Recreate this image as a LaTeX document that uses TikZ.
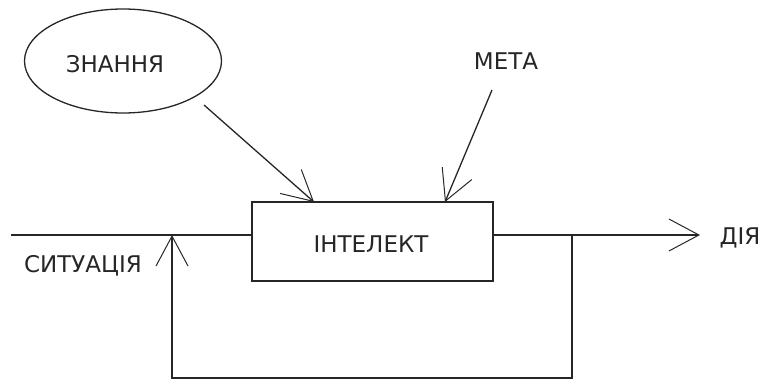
\documentclass[tikz,border=0pt]{standalone}
\usepackage{fontspec}
\setmainfont{DejaVu Sans}
\usetikzlibrary{shapes.geometric,arrows.meta}
\begin{document}
\begin{tikzpicture}[x=1pt,y=-1pt,
  ln/.style={line width=1.3pt,draw=black!85},
  arr/.style={ln,-{Straight Barb[length=30pt,width=32pt,line width=1pt]}},
  lbl/.style={font=\fontsize{23}{24}\selectfont,text=black!85,inner sep=0pt,anchor=base}]
\useasboundingbox (0,0) rectangle (764,380);
\node[ellipse,ln,minimum width=197pt,minimum height=104pt,inner sep=0pt] (zn) at (123,61) {};
\node[lbl] (znt) at (115,72) {ЗНАННЯ};
\node[lbl] (meta) at (506,69) {МЕТА};
\node[draw,ln,minimum width=241pt,minimum height=79pt,inner sep=0pt] (box) at (372.5,241.5) {};
\node[lbl] (bt) at (371,252) {ІНТЕЛЕКТ};
\node[lbl] (sit) at (83,272) {СИТУАЦІЯ};
\node[lbl] (diya) at (740,244) {ДІЯ};
\coordinate (zs) at (204,105);
\coordinate (zt) at (314,202);
\coordinate (ms) at (492,90);
\coordinate (mt) at (445,202);
\coordinate (in) at (11,235);
\coordinate (fb) at (172,235);
\coordinate (out) at (700,235);
\coordinate (br) at (572,235);
\draw[arr] (zs) -- (zt);
\draw[arr] (ms) -- (mt);
\draw[ln] (in) -- (box.west |- in);
\draw[arr] (box.east |- out) -- (out);
\draw[arr] (br) -- (br |- 0,378) -- (fb |- 0,378) -- (fb);
\end{tikzpicture}
\end{document}
